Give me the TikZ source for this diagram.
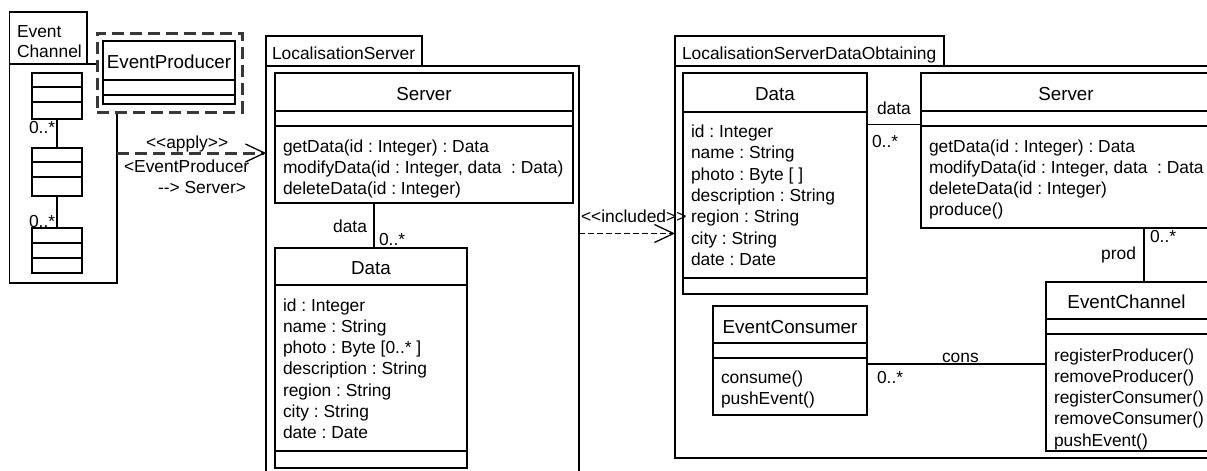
\documentclass[tikz,border=0pt]{standalone}
\usepackage{fontspec}
\setmainfont{Liberation Sans}
\usetikzlibrary{arrows.meta}
\frenchspacing
\newcommand\umlsmall{\fontsize{17.4}{21.3}\selectfont\frenchspacing}
\newcommand\umlname{\fontsize{18.8}{22}\selectfont\frenchspacing}
\begin{document}
\begin{tikzpicture}[x=1pt,y=-1pt,
  box/.style={draw=black, line width=1.1pt, anchor=north west, inner sep=0pt, outer sep=0pt},
  ln/.style={draw=black, line width=1.1pt},
  txt/.style={anchor=base west, font=\umlsmall, inner sep=0pt, outer sep=0pt},
  txte/.style={anchor=base east, font=\umlsmall, inner sep=0pt, outer sep=0pt},
  nm/.style={anchor=base, font=\umlname, inner sep=0pt, outer sep=0pt},
  thickdash/.style={draw=black!78, line width=3pt, dash pattern=on 12pt off 6pt},
  openhead/.style={-{Straight Barb[length=19pt,width=18pt,line width=1.3pt,color=black]}}
]
\useasboundingbox (0,0) rectangle (1207,471);
\clip (0,0) rectangle (1207,471);

% ---------- Event Channel package ----------
\node[box, minimum width=77.5pt, minimum height=52pt] (ecTab) at (9.5,12) {};
\node[box, minimum width=107.5pt, minimum height=219pt] (ecBody) at (9.5,64) {};
\node[txt] (ecTabT1) at (17,37) {Event};
\node[txt] (ecTabT2) at (17,57) {Channel};

\node[box, minimum width=50pt, minimum height=46pt] (c1) at (32,73) {};
\draw[ln] (c1.west |- 0,87) -- (c1.east |- 0,87);
\draw[ln] (c1.west |- 0,102) -- (c1.east |- 0,102);
\node[box, minimum width=50pt, minimum height=48pt] (c2) at (32,148) {};
\draw[ln] (c2.west |- 0,162) -- (c2.east |- 0,162);
\draw[ln] (c2.west |- 0,177) -- (c2.east |- 0,177);
\node[box, minimum width=50pt, minimum height=45pt] (c3) at (32,228) {};
\draw[ln] (c3.west |- 0,243) -- (c3.east |- 0,243);
\draw[ln] (c3.west |- 0,258) -- (c3.east |- 0,258);
\draw[ln] (c1.south) -- (c2.north);
\draw[ln] (c2.south) -- (c3.north);
\node[txt] (m1) at (29,133.5) {0..*};
\node[txt] (m2) at (29,227) {0..*};

% ---------- EventProducer (dashed) ----------
\node[box, thickdash, fill=white, minimum width=145pt, minimum height=79pt] (epFrame) at (97,33) {};
\node[box, fill=white, minimum width=132pt, minimum height=63pt] (ep) at (103,41) {};
\draw[ln] (ep.west |- 0,80) -- (ep.east |- 0,80);
\draw[ln] (ep.west |- 0,95) -- (ep.east |- 0,95);
\node[nm] (epName) at (169,68) {EventProducer};

% ---------- LocalisationServer package ----------
\node[box, minimum width=156pt, minimum height=30pt] (lsTab) at (266,36) {};
\node[box, minimum width=313pt, minimum height=420pt] (lsBody) at (266,66) {};
\node[txt] (lsTabT) at (272,59) {LocalisationServer};

\node[box, minimum width=298pt, minimum height=130pt] (srv) at (275,73) {};
\draw[ln] (srv.west |- 0,111) -- (srv.east |- 0,111);
\draw[ln] (srv.west |- 0,126) -- (srv.east |- 0,126);
\node[nm] (srvName) at (424,100) {Server};
\foreach \t [count=\i from 0] in {{getData(id : Integer) : Data},{modifyData(id : Integer, data\ \ : Data)},{deleteData(id : Integer)}}
  \node[txt] (srvOp\i) at (283,152+21.2*\i) {\t};

\node[box, minimum width=192pt, minimum height=220pt] (dat) at (275,248) {};
\draw[ln] (dat.west |- 0,285) -- (dat.east |- 0,285);
\draw[ln] (dat.west |- 0,451) -- (dat.east |- 0,451);
\node[nm] (datName) at (371,274) {Data};
\foreach \t [count=\i from 0] in {{id : Integer},{name : String},{photo : Byte [0..* ]},{description : String},{region : String},{city : String},{date : Date}}
  \node[txt] (datAt\i) at (283,311+21.3*\i) {\t};

\coordinate (lsx) at (374,0);
\draw[ln] (srv.south -| lsx) -- (dat.north -| lsx);
\node[txte] (lsRole) at (367,232) {data};
\node[txt] (lsMult) at (379,245) {0..*};

% ---------- LocalisationServerDataObtaining package ----------
\node[box, minimum width=269pt, minimum height=30pt] (rpTab) at (675,36) {};
\node[box, minimum width=545pt, minimum height=392pt] (rpBody) at (675,66) {};
\node[txt] (rpTabT) at (682,59) {LocalisationServerDataObtaining};

\node[box, minimum width=184pt, minimum height=221pt] (rdat) at (683,73) {};
\draw[ln] (rdat.west |- 0,112) -- (rdat.east |- 0,112);
\draw[ln] (rdat.west |- 0,278) -- (rdat.east |- 0,278);
\node[nm] (rdatName) at (775,100) {Data};
\foreach \t [count=\i from 0] in {{id : Integer},{name : String},{photo : Byte [ ]},{description : String},{region : String},{city : String},{date : Date}}
  \node[txt] (rdatAt\i) at (691,137.5+21.3*\i) {\t};

\node[box, minimum width=290pt, minimum height=155pt] (rsrv) at (921,73) {};
\draw[ln] (rsrv.west |- 0,111) -- (rsrv.east |- 0,111);
\draw[ln] (rsrv.west |- 0,126) -- (rsrv.east |- 0,126);
\node[nm] (rsrvName) at (1066,100) {Server};
\foreach \t [count=\i from 0] in {{getData(id : Integer) : Data},{modifyData(id : Integer, data\ \ : Data},{deleteData(id : Integer)},{produce()}}
  \node[txt] (rsrvOp\i) at (929,152+21.1*\i) {\t};

\coordinate (ry) at (0,124.5);
\draw[ln] (rdat.east |- ry) -- (rsrv.west |- ry);
\node[txt] (rRole) at (877,114) {data};
\node[txt] (rMult) at (872,147) {0..*};

\node[box, minimum width=165pt, minimum height=169pt] (ech) at (1046,282) {};
\draw[ln] (ech.west |- 0,319) -- (ech.east |- 0,319);
\draw[ln] (ech.west |- 0,334) -- (ech.east |- 0,334);
\node[nm] (echName) at (1126.5,308) {EventChannel};
\foreach \t [count=\i from 0] in {{registerProducer()},{removeProducer()},{registerConsumer()},{removeConsumer()},{pushEvent()}}
  \node[txt] (echOp\i) at (1054,361+21.3*\i) {\t};

\coordinate (px) at (1144,0);
\draw[ln] (rsrv.south -| px) -- (ech.north -| px);
\node[txte] (pRole) at (1136,259) {prod};
\node[txt] (pMult) at (1150,242) {0..*};

\node[box, minimum width=154pt, minimum height=109pt] (ecn) at (713,306) {};
\draw[ln] (ecn.west |- 0,343) -- (ecn.east |- 0,343);
\draw[ln] (ecn.west |- 0,358) -- (ecn.east |- 0,358);
\node[nm] (ecnName) at (790,333) {EventConsumer};
\foreach \t [count=\i from 0] in {{consume()},{pushEvent()}}
  \node[txt] (ecnOp\i) at (721,383+21.3*\i) {\t};

\coordinate (cy) at (0,364);
\draw[ln] (ecn.east |- cy) -- (ech.west |- cy);
\node[txt] (cRole) at (942,362) {cons};
\node[txt] (cMult) at (877,383) {0..*};

% ---------- dependencies ----------
\coordinate (ay) at (0,153);
\draw[thickdash, openhead] (ecBody.east |- ay) -- (lsBody.west |- ay);
\node[txt] (apT1) at (146,148) {<{}<apply>{}>};
\node[txt] (apT2) at (124,172) {<EventProducer};
\node[txt] (apT3) at (158,193) {-{}-> Server>};

\coordinate (iy) at (0,233.5);
\draw[ln, dash pattern=on 6pt off 3pt, openhead] (lsBody.east |- iy) -- (rpBody.west |- iy);
\node[txt] (inT) at (581,222) {<{}<included>{}>};
\end{tikzpicture}
\end{document}
